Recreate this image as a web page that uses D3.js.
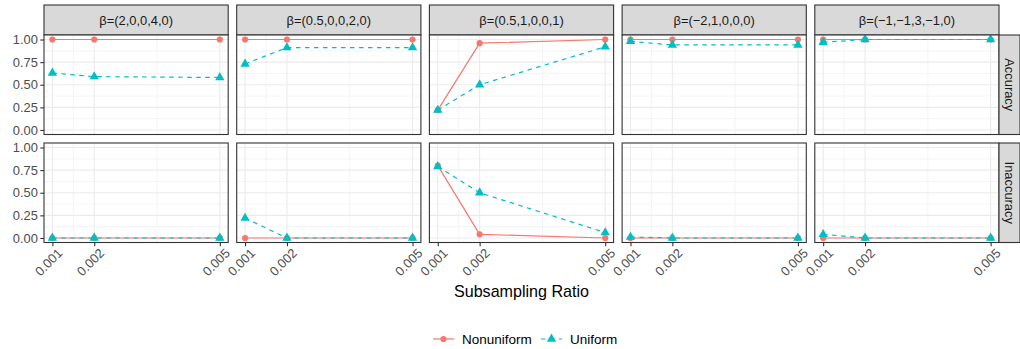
<!DOCTYPE html>
<html>
<head>
<meta charset="utf-8">
<script src="https://cdn.jsdelivr.net/npm/d3@7"></script>
<style>
  body { margin: 0; background: #fff; }
  svg { font-family: "Liberation Sans", Arial, sans-serif; display: block; }
</style>
</head>
<body>
<svg id="chart" width="1020" height="349"></svg>
<script>
// data
const ratios = [0.001, 0.002, 0.005];
const ratioLabels = ["0.001", "0.002", "0.005"];
const betas = ["β=(2,0,0,4,0)", "β=(0.5,0,0,2,0)", "β=(0.5,1,0,0,1)", "β=(−2,1,0,0,0)", "β=(−1,−1,3,−1,0)"];
const metrics = ["Accuracy", "Inaccuracy"];
const methods = ["Nonuniform", "Uniform"];
const yTicks = [0, 0.25, 0.5, 0.75, 1];
const yTickLabels = ["0.00", "0.25", "0.50", "0.75", "1.00"];

const accNonuniform = [[1, 1, 1], [1, 1, 1], [0.22, 0.96, 1], [1, 1, 1], [1, 1, 1]];
const accUniform = [[0.63, 0.59, 0.58], [0.73, 0.91, 0.91], [0.22, 0.50, 0.92], [0.98, 0.94, 0.94], [0.97, 1, 1]];
const inaccNonuniform = [[0, 0, 0], [0, 0, 0], [0.80, 0.04, 0], [0, 0, 0], [0, 0, 0]];
const inaccUniform = [[0, 0, 0], [0.22, 0, 0], [0.79, 0.50, 0.06], [0.01, 0, 0], [0.04, 0, 0]];

const colors = {Nonuniform: "#F8766D", Uniform: "#00BFC4"};

// layout
const left = 44, panelW = 184.2, gapX = 8.5;
const rowTop = [35, 143], panelH = 99.5;
const stripTop = 5;
const fs = 12.9;

const svg = d3.select("#chart");

const x = d3.scaleLinear().domain([0.0008, 0.0052]);
const y = d3.scaleLinear().domain([-0.05, 1.05]);

function seriesFor(metric, m, i) {
  if (metric == "Accuracy") {
    return m == "Nonuniform" ? accNonuniform[i] : accUniform[i];
  } else {
    return m == "Nonuniform" ? inaccNonuniform[i] : inaccUniform[i];
  }
}

function symbolFor(m) {
  return m == "Uniform"
    ? d3.symbol().type(d3.symbolTriangle).size(38)
    : d3.symbol().type(d3.symbolCircle).size(30);
}

const minorX = [0.0015, 0.0035];
const minorY = [0.125, 0.375, 0.625, 0.875];

betas.forEach((beta, i) => {
  const x0 = left + i * (panelW + gapX);
  x.range([x0, x0 + panelW]);

  // top strip
  svg.append("rect")
    .attr("x", x0).attr("y", stripTop)
    .attr("width", panelW).attr("height", rowTop[0] - stripTop)
    .attr("fill", "#d9d9d9").attr("stroke", "#333").attr("stroke-width", 1.1);
  svg.append("text")
    .attr("x", x0 + panelW / 2).attr("y", (stripTop + rowTop[0]) / 2)
    .attr("dy", "0.35em").attr("text-anchor", "middle")
    .attr("font-size", fs).attr("fill", "#1a1a1a")
    .text(beta);

  metrics.forEach((metric, r) => {
    const y0 = rowTop[r];
    y.range([y0 + panelH, y0]);
    const g = svg.append("g");

    g.append("rect")
      .attr("x", x0).attr("y", y0).attr("width", panelW).attr("height", panelH)
      .attr("fill", "#fff");

    // minor grid
    g.selectAll(".mx").data(minorX).join("line")
      .attr("x1", d => x(d)).attr("x2", d => x(d))
      .attr("y1", y0).attr("y2", y0 + panelH)
      .attr("stroke", "#ebebeb").attr("stroke-width", 0.55);
    g.selectAll(".my").data(minorY).join("line")
      .attr("x1", x0).attr("x2", x0 + panelW)
      .attr("y1", d => y(d)).attr("y2", d => y(d))
      .attr("stroke", "#ebebeb").attr("stroke-width", 0.55);
    // major grid
    g.selectAll(".gx").data(ratios).join("line")
      .attr("x1", d => x(d)).attr("x2", d => x(d))
      .attr("y1", y0).attr("y2", y0 + panelH)
      .attr("stroke", "#ebebeb").attr("stroke-width", 1.1);
    g.selectAll(".gy").data(yTicks).join("line")
      .attr("x1", x0).attr("x2", x0 + panelW)
      .attr("y1", d => y(d)).attr("y2", d => y(d))
      .attr("stroke", "#ebebeb").attr("stroke-width", 1.1);

    const line = d3.line().x(d => x(d[0])).y(d => y(d[1]));

    methods.forEach(m => {
      const vals = seriesFor(metric, m, i);
      const pts = ratios.map((rt, k) => [rt, vals[k]]);
      g.append("path")
        .attr("d", line(pts))
        .attr("fill", "none")
        .attr("stroke", colors[m])
        .attr("stroke-width", 1.2)
        .attr("stroke-dasharray", m == "Uniform" ? "4.5,4.5" : null);
    });
    methods.forEach(m => {
      const vals = seriesFor(metric, m, i);
      const pts = ratios.map((rt, k) => [rt, vals[k]]);
      g.selectAll(".p" + m).data(pts).join("path")
        .attr("transform", d => `translate(${x(d[0])},${y(d[1])})`)
        .attr("d", symbolFor(m))
        .attr("fill", colors[m]);
    });

    g.append("rect")
      .attr("x", x0).attr("y", y0).attr("width", panelW).attr("height", panelH)
      .attr("fill", "none").attr("stroke", "#333").attr("stroke-width", 1.1);

    // y axis on first column
    if (i == 0) {
      const ya = svg.append("g")
        .attr("transform", `translate(${x0},0)`)
        .call(d3.axisLeft(y).tickValues(yTicks).tickSize(3.7).tickPadding(2.5)
          .tickFormat((d, k) => yTickLabels[k]));
      ya.select(".domain").remove();
      ya.selectAll("line").attr("stroke", "#333").attr("stroke-width", 1.1);
      ya.selectAll("text").attr("font-size", fs).attr("fill", "#4d4d4d")
        .attr("font-family", "Liberation Sans, Arial, sans-serif");
    }

    // right strip on last column
    if (i == betas.length - 1) {
      const sx = x0 + panelW;
      svg.append("rect")
        .attr("x", sx).attr("y", y0).attr("width", 21).attr("height", panelH)
        .attr("fill", "#d9d9d9").attr("stroke", "#333").attr("stroke-width", 1.1);
      svg.append("text")
        .attr("transform", `translate(${sx + 10.5},${y0 + panelH / 2}) rotate(90)`)
        .attr("dy", "0.35em").attr("text-anchor", "middle")
        .attr("font-size", fs).attr("fill", "#1a1a1a")
        .text(metric);
    }

    // x axis on bottom row
    if (r == metrics.length - 1) {
      const xa = svg.append("g")
        .attr("transform", `translate(0,${y0 + panelH})`)
        .call(d3.axisBottom(x).tickValues(ratios).tickSize(3.7).tickFormat((d, k) => ratioLabels[k]));
      xa.select(".domain").remove();
      xa.selectAll("line").attr("stroke", "#333").attr("stroke-width", 1.1);
      xa.selectAll("text")
        .attr("font-size", fs).attr("fill", "#4d4d4d")
        .attr("font-family", "Liberation Sans, Arial, sans-serif")
        .attr("text-anchor", "end")
        .attr("transform", "translate(4,5) rotate(-45)")
        .attr("x", 0).attr("y", 0).attr("dy", "0.7em");
    }
  });
});

// axis title
svg.append("text")
  .attr("x", left + (5 * panelW + 4 * gapX) / 2).attr("y", 297)
  .attr("text-anchor", "middle").attr("font-size", 16.1).attr("fill", "#000")
  .text("Subsampling Ratio");

// legend
const legendX = [433, 541];
const lg = svg.append("g");
methods.forEach((m, k) => {
  const lx = legendX[k], ly = 339;
  lg.append("line")
    .attr("x1", lx).attr("x2", lx + 21).attr("y1", ly).attr("y2", ly)
    .attr("stroke", colors[m]).attr("stroke-width", 1.2)
    .attr("stroke-dasharray", m == "Uniform" ? "4.5,4.5" : null);
  lg.append("path")
    .attr("transform", `translate(${lx + 10.5},${ly})`)
    .attr("d", symbolFor(m))
    .attr("fill", colors[m]);
  lg.append("text")
    .attr("x", lx + 29).attr("y", ly).attr("dy", "0.35em")
    .attr("font-size", 13.5).attr("fill", "#000")
    .text(m);
});
</script>
</body>
</html>
